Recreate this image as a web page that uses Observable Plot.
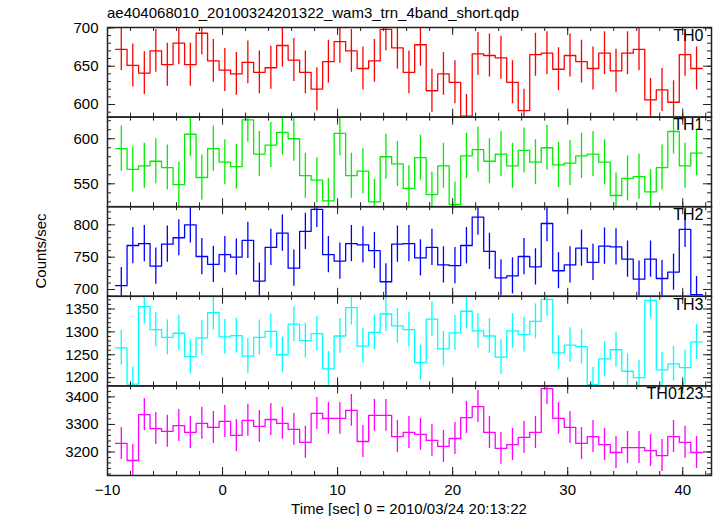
<!DOCTYPE html>
<html><head><meta charset="utf-8">
<script src="https://cdn.jsdelivr.net/npm/d3@7"></script>
<script src="https://cdn.jsdelivr.net/npm/@observablehq/plot@0.6"></script>
<style>
body{margin:0;background:#fff;}
#chart{position:relative;width:717px;height:516px;font-family:"Liberation Sans",Arial,Helvetica,sans-serif;color:#000;}
#chart svg{position:absolute;left:0;top:0;}
.lbl{position:absolute;white-space:nowrap;line-height:1;}
</style></head><body><div id="chart"></div>
<script>
// ---- data ----
const titleText = "ae404068010_20100324201322_wam3_trn_4band_short.qdp";
const xLabelText = "Time [sec] 0 = 2010/03/24 20:13:22";
const yLabelText = "Counts/sec";
const times = [-8.8,-7.8,-6.8,-5.8,-4.8,-3.8,-2.8,-1.8,-0.8,0.2,1.2,2.2,3.2,4.2,5.2,6.2,7.2,8.2,9.2,10.2,11.2,12.2,13.2,14.2,15.2,16.2,17.2,18.2,19.2,20.2,21.2,22.2,23.2,24.2,25.2,26.2,27.2,28.2,29.2,30.2,31.2,32.2,33.2,34.2,35.2,36.2,37.2,38.2,39.2,40.2,41.2];
const binWidth = 1;
const seriesNames = ["TH0","TH1","TH2","TH3","TH0123"];
const th0 = [672,651,641,670,652,680,652,693,657,645,640,655,642,648,677,658,642,620,656,682,670,647,657,698,674,642,678,618,640,629,585,666,664,661,629,592,665,667,646,664,656,647,667,644,667,672,606,619,603,665,647];
const th1 = [589,566,570,575,568,549,605,557,589,574,569,621,583,593,607,600,559,554,531,606,559,564,530,580,572,545,579,538,570,527,581,588,575,583,570,587,574,590,571,573,581,583,574,537,556,558,541,568,608,570,584];
const th2 = [706,768,771,736,770,780,800,751,739,754,750,776,713,765,787,733,790,824,754,744,771,769,760,712,770,771,749,765,738,737,768,812,759,718,721,751,735,802,729,738,764,742,767,766,747,716,747,717,727,793,692];
const th3 = [1265,1186,1355,1305,1288,1297,1246,1287,1342,1289,1292,1247,1288,1301,1250,1317,1281,1296,1219,1291,1353,1269,1299,1339,1313,1305,1233,1328,1263,1298,1345,1302,1291,1245,1302,1294,1323,1371,1254,1271,1268,1185,1241,1261,1214,1200,1369,1217,1230,1222,1278];
const th0123 = [3231,3169,3336,3285,3275,3296,3271,3304,3289,3311,3260,3315,3293,3318,3304,3282,3235,3340,3322,3322,3351,3238,3333,3333,3256,3271,3264,3242,3220,3249,3325,3365,3271,3213,3227,3253,3271,3430,3322,3289,3231,3256,3227,3198,3216,3216,3205,3187,3256,3235,3198];
const errors = [28, 25, 28, 38, 58];
const colors = ["#ff0000","#00ee00","#0000ff","#00ffff","#ff00ff"];
const yDomains = [[583.6,700.5],[524.6,624],[689.5,828],[1182,1377.7],[3114.5,3440]];
const yTickLabels = [[600,650,700],[550,600],[700,750,800],[1200,1250,1300,1350],[3200,3300,3400]];
const yMinorSteps = [10,10,10,10,20];
const xTickLabels = [-10,0,10,20,30,40];
const xMinorStep = 2;
const xDomain = [-10,42.5];
const seriesValues = [th0,th1,th2,th3,th0123];

// ---- layout ----
const W = 717, H = 516, ML = 107, MR = 6;
const top0 = 27, ph = 89.6;
const pw = W - ML - MR;
const chart = document.getElementById("chart");
const FONT = "Liberation Sans, Arial, Helvetica, sans-serif";
const fmt = d => d < 0 ? "\u2212" + (-d) : String(d);

seriesNames.forEach((name, i) => {
  const t = top0 + i * ph, b = t + ph;
  const vals = seriesValues[i];
  const steps = times.flatMap((x, j) => [{x: x - binWidth/2, y: vals[j]}, {x: x + binWidth/2, y: vals[j]}]);
  const rows = times.map((x, j) => ({x, y: vals[j], e: errors[i]}));
  const xMinor = d3.range(xDomain[0], xDomain[1], xMinorStep);
  const dom = yDomains[i];
  const st = yMinorSteps[i];
  const yMinor = d3.range(Math.ceil(dom[0] / st) * st, dom[1], st);
  const yMajor = yTickLabels[i];
  const tick = {stroke: "#222", strokeWidth: 1};
  const marks = [
    Plot.line(steps, {x: "x", y: "y", stroke: colors[i], strokeWidth: 1.3, clip: true}),
    Plot.ruleX(rows, {x: "x", y1: d => d.y - d.e, y2: d => d.y + d.e, stroke: colors[i], strokeWidth: 1.3, clip: true}),
    Plot.tickX(xMinor, {x: d => d, insetBottom: ph - 4, ...tick}),
    Plot.tickX(xMinor, {x: d => d, insetTop: ph - 4, ...tick}),
    Plot.tickX(xTickLabels, {x: d => d, insetBottom: ph - 8, ...tick}),
    Plot.tickX(xTickLabels, {x: d => d, insetTop: ph - 8, ...tick}),
    Plot.tickY(yMinor, {y: d => d, insetRight: pw - 4, ...tick}),
    Plot.tickY(yMinor, {y: d => d, insetLeft: pw - 4, ...tick}),
    Plot.tickY(yMajor, {y: d => d, insetRight: pw - 8, ...tick}),
    Plot.tickY(yMajor, {y: d => d, insetLeft: pw - 8, ...tick}),
    Plot.frame({stroke: "#222", strokeWidth: 1.5}),
    Plot.text(yMajor, {y: d => d, frameAnchor: "left", dx: -9, textAnchor: "end", text: d => fmt(d), fontSize: 15, fill: "#000"}),
    Plot.text([name], {frameAnchor: "top-right", dx: -8, dy: 2, lineAnchor: "top", textAnchor: "end", fontSize: 16, fill: "#000"})
  ];
  if (i === seriesNames.length - 1) {
    marks.push(Plot.text(xTickLabels, {x: d => d, frameAnchor: "bottom", dy: 15, lineAnchor: "middle", text: d => fmt(d), fontSize: 15, fill: "#000"}));
  }
  const svg = Plot.plot({
    width: W, height: H,
    marginLeft: ML, marginRight: MR, marginTop: t, marginBottom: H - b,
    x: {domain: xDomain, axis: null},
    y: {domain: dom, axis: null},
    style: {background: "transparent", overflow: "visible", fontFamily: FONT, fontSize: "15px", color: "#000"},
    marks
  });
  chart.appendChild(svg);
});

function addLabel(text, css) {
  const d = document.createElement("div");
  d.className = "lbl";
  d.textContent = text;
  Object.assign(d.style, css);
  chart.appendChild(d);
}
addLabel(titleText, {left: "107px", top: "5px", fontSize: "15px"});
addLabel(xLabelText, {left: "409px", top: "508px", fontSize: "15px", transform: "translate(-50%,-50%)"});
addLabel(yLabelText, {left: "40px", top: "251px", fontSize: "15px", transform: "translate(-50%,-50%) rotate(-90deg)"});
</script></body></html>
